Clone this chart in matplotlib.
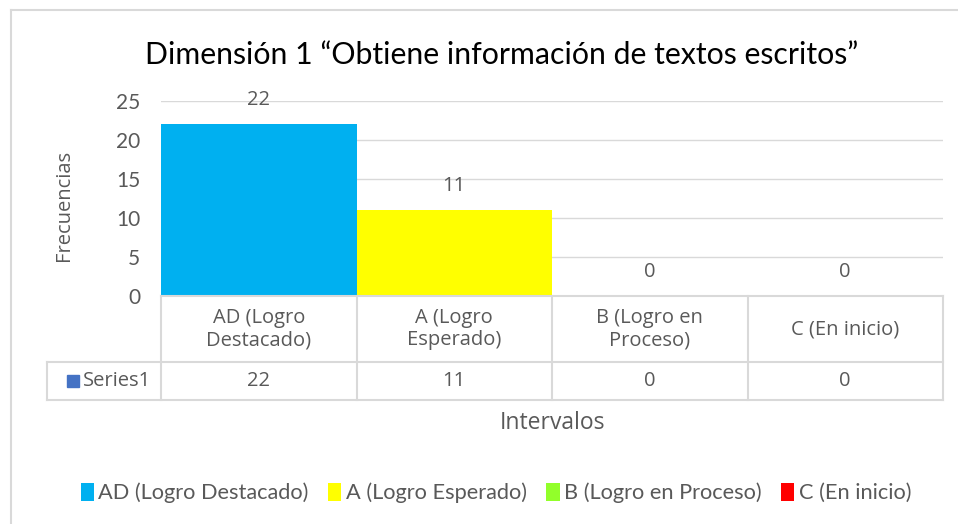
import matplotlib
matplotlib.use("Agg")
import matplotlib.pyplot as plt
from matplotlib.patches import Patch, Rectangle
from matplotlib.lines import Line2D

categories = ["AD (Logro\nDestacado)", "A (Logro\nEsperado)", "B (Logro en\nProceso)", "C (En inicio)"]
legend_labels = ["AD (Logro Destacado)", "A (Logro Esperado)", "B (Logro en Proceso)", "C (En inicio)"]
values = [22, 11, 0, 0]
colors = ["#00B0F0", "#FFFF00", "#92FF2A", "#FF0000"]
series_name = "Series1"
yticks = [0, 5, 10, 15, 20, 25]

W, H = 958, 524
fig = plt.figure(figsize=(W / 100, H / 100), dpi=100)
fig.patch.set_facecolor("white")

narrow = ["Lato", "DejaVu Sans"]
wide = ["Open Sans", "DejaVu Sans"]
txt = "#595959"
grid = "#D9D9D9"

def fy(py):
    return 1 - py / H

def fx(px):
    return px / W

# chart border
fig.add_artist(Line2D([fx(11), fx(11)], [0, fy(10)], transform=fig.transFigure, color="#D9D9D9", lw=1.5))
fig.add_artist(Line2D([fx(11), 1], [fy(10), fy(10)], transform=fig.transFigure, color="#D9D9D9", lw=1.5))

x0, x1 = 161, 943
ytop, ybot = 101, 296
ax = fig.add_axes([x0 / W, 1 - ybot / H, (x1 - x0) / W, (ybot - ytop) / H])
n = len(values)
xs = list(range(n))
ax.bar(xs, values, width=1.0, color=colors, zorder=3)
ax.set_xlim(-0.5, n - 0.5)
ax.set_ylim(0, 25)
for s in ax.spines.values():
    s.set_visible(False)
ax.set_xticks([])
ax.set_yticks(yticks)
ax.set_yticklabels([str(t) for t in yticks], fontfamily=narrow, fontsize=15, color=txt)
ax.tick_params(axis="y", length=0, pad=15)
for t in yticks[1:]:
    ax.axhline(t, color=grid, lw=1, zorder=1)

for x, v in zip(xs, values):
    ax.annotate(str(v), (x, v), xytext=(0, 24), textcoords="offset pixels",
                ha="center", va="center", fontfamily=wide, fontsize=14.5, color=txt)

fig.text(fx(64), fy(205), "Frecuencias", rotation=90, ha="center", va="center",
         fontfamily=wide, fontsize=14.5, color=txt)

# data table
row1, row2, row3 = 296, 362, 400
colx = [x0 + i * (x1 - x0) / n for i in range(n + 1)]
lc = dict(transform=fig.transFigure, color=grid, lw=1.5)
fig.add_artist(Line2D([fx(x0), fx(x1)], [fy(row1), fy(row1)], **lc))
fig.add_artist(Line2D([fx(47), fx(x1)], [fy(row2), fy(row2)], **lc))
fig.add_artist(Line2D([fx(47), fx(x1)], [fy(row3), fy(row3)], **lc))
for cx in colx:
    fig.add_artist(Line2D([fx(cx), fx(cx)], [fy(row1), fy(row3)], **lc))
fig.add_artist(Line2D([fx(47), fx(47)], [fy(row2), fy(row3)], **lc))

for i in range(n):
    cxm = (colx[i] + colx[i + 1]) / 2
    fig.text(fx(cxm), fy((row1 + row2) / 2), categories[i], ha="center", va="center",
             fontfamily=wide, fontsize=14.5, color=txt, linespacing=1.15)
    fig.text(fx(cxm), fy((row2 + row3) / 2), str(values[i]), ha="center", va="center",
             fontfamily=wide, fontsize=14.5, color=txt)
fig.add_artist(Rectangle((fx(67), fy(387)), 12 / W, 12 / H, transform=fig.transFigure, color="#4472C4"))
fig.text(fx(83), fy((row2 + row3) / 2), series_name, ha="left", va="center",
         fontfamily=wide, fontsize=14.5, color=txt)

fig.text(fx(552), fy(423), "Intervalos", ha="center", va="center", fontfamily=wide, fontsize=16.5, color=txt)

fig.text(fx(502), fy(55), "Dimensión 1 “Obtiene información de textos escritos”", ha="center", va="center",
         fontfamily=narrow, fontsize=21.8, color="#000000")

handles = [Patch(facecolor=c, edgecolor="none") for c in colors]
leg = fig.legend(handles, legend_labels, loc="center", bbox_to_anchor=(fx(496), fy(493)), ncol=4,
                 frameon=False, handlelength=0.6, handleheight=0.9, handletextpad=0.2, columnspacing=0.9,
                 prop={"family": narrow, "size": 15.7})
for t in leg.get_texts():
    t.set_color(txt)

fig.savefig("out.png", dpi=100)
